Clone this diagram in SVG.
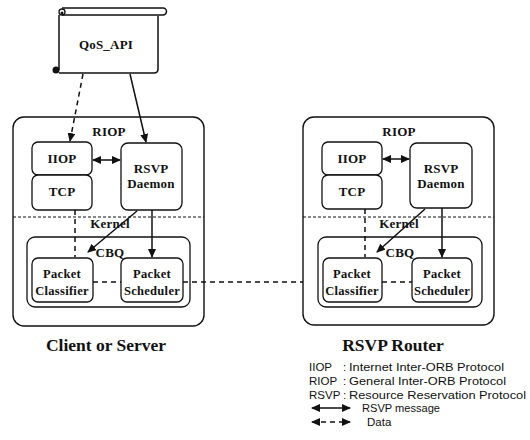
<svg xmlns="http://www.w3.org/2000/svg" width="530" height="440" viewBox="0 0 530 440">
<defs>
<marker id="ah" markerUnits="userSpaceOnUse" markerWidth="9" markerHeight="8" refX="8" refY="4" orient="auto-start-reverse">
<path d="M0,0 L9,4 L0,8 z" fill="#111"/>
</marker>
<style>
.box{fill:#fff;stroke:#111;stroke-width:1.3}
.sys{fill:#fff;stroke:#111;stroke-width:1.4}
.lbl{font-family:"Liberation Serif","Times New Roman",serif;font-weight:bold;font-size:13px;letter-spacing:0.2px;fill:#111;text-anchor:middle}
.pk{font-size:12.5px;letter-spacing:0.3px}
.big{font-family:"Liberation Serif","Times New Roman",serif;font-weight:bold;font-size:17.5px;fill:#111;text-anchor:middle}
.leg{font-family:"Liberation Sans",Arial,sans-serif;font-size:11.5px;fill:#111}
.sol{stroke:#111;stroke-width:1.5;fill:none}
.dash{stroke:#111;stroke-width:1.5;fill:none;stroke-dasharray:5,4}
.kern{stroke:#111;stroke-width:1;fill:none;stroke-dasharray:3,2}
</style>
</defs>
<rect width="530" height="440" fill="#fff"/>

<!-- QoS_API scroll -->
<g id="qos_api">
<path d="M59,15 V70 M59,73 H154 Q158,73 158,69 V16" class="sol" stroke-width="1.3"/>
<path d="M62,8 H163 a3.5,3.5 0 0 1 0,7 H62" class="sol" stroke-width="1.3"/>
<circle cx="62" cy="12" r="3" fill="#fff" stroke="#111" stroke-width="1.3"/>
<circle cx="62" cy="13" r="1.5" fill="#111"/>
<circle cx="56" cy="70" r="3.5" fill="#111"/>
<text class="lbl" x="106" y="49" font-size="14.5">QoS_API</text>
</g>

<!-- Left system -->
<g id="client_riop">
<rect class="sys" x="13" y="117" width="191" height="209" rx="11"/>
<text class="lbl" x="109" y="136" font-size="13.5">RIOP</text>
<line class="kern" x1="13" y1="217" x2="204" y2="217"/>
<text class="lbl" x="110" y="228" font-size="13.5">Kernel</text>
</g>
<g id="client_cbq">
<rect class="box" x="27" y="237" width="163" height="70" rx="8"/>
<text class="lbl" x="110" y="257">CBQ</text>
</g>
<g id="client_iiop">
<rect class="box" x="32" y="142" width="60" height="33" rx="6"/>
<text class="lbl" x="62" y="163">IIOP</text>
</g>
<g id="client_tcp">
<rect class="box" x="32" y="175" width="60" height="35" rx="6"/>
<text class="lbl" x="62" y="196">TCP</text>
</g>
<g id="client_rsvp">
<rect class="box" x="121" y="143" width="61" height="67" rx="7"/>
<text class="lbl" x="151" y="173">RSVP</text>
<text class="lbl" x="151" y="188">Daemon</text>
</g>
<g id="client_classifier">
<rect class="box" x="32" y="258" width="61" height="44" rx="6"/>
<text class="lbl pk" x="62" y="278">Packet</text>
<text class="lbl pk" x="62" y="295">Classifier</text>
</g>
<g id="client_scheduler">
<rect class="box" x="121" y="258" width="62" height="44" rx="6"/>
<text class="lbl pk" x="152" y="278">Packet</text>
<text class="lbl pk" x="152" y="295">Scheduler</text>
</g>

<!-- Right system -->
<g id="router_riop">
<rect class="sys" x="303" y="117" width="191" height="208" rx="11"/>
<text class="lbl" x="399" y="136" font-size="13.5">RIOP</text>
<line class="kern" x1="303" y1="217" x2="494" y2="217"/>
<text class="lbl" x="399" y="228" font-size="13.5">Kernel</text>
</g>
<g id="router_cbq">
<rect class="box" x="318" y="237" width="164" height="70" rx="8"/>
<text class="lbl" x="400" y="257">CBQ</text>
</g>
<g id="router_iiop">
<rect class="box" x="322" y="142" width="60" height="33" rx="6"/>
<text class="lbl" x="352" y="163">IIOP</text>
</g>
<g id="router_tcp">
<rect class="box" x="322" y="175" width="60" height="34" rx="6"/>
<text class="lbl" x="352" y="196">TCP</text>
</g>
<g id="router_rsvp">
<rect class="box" x="410" y="143" width="62" height="65" rx="7"/>
<text class="lbl" x="441" y="173">RSVP</text>
<text class="lbl" x="441" y="188">Daemon</text>
</g>
<g id="router_classifier">
<rect class="box" x="323" y="258" width="59" height="44" rx="6"/>
<text class="lbl pk" x="352" y="278">Packet</text>
<text class="lbl pk" x="352" y="295">Classifier</text>
</g>
<g id="router_scheduler">
<rect class="box" x="412" y="258" width="60" height="44" rx="6"/>
<text class="lbl pk" x="442" y="278">Packet</text>
<text class="lbl pk" x="442" y="295">Scheduler</text>
</g>

<!-- Connectors -->
<g id="connectors">
<line class="dash" x1="83" y1="74" x2="70" y2="141" marker-end="url(#ah)"/>
<line class="sol" x1="130" y1="74" x2="146" y2="142" marker-end="url(#ah)"/>
<line class="sol" x1="93" y1="160" x2="120" y2="160" marker-start="url(#ah)" marker-end="url(#ah)"/>
<line class="sol" x1="137" y1="211" x2="88" y2="252" marker-end="url(#ah)"/>
<line class="sol" x1="152" y1="210" x2="152" y2="257" marker-end="url(#ah)"/>
<line class="dash" x1="75" y1="210" x2="75" y2="257"/>
<line class="dash" x1="93" y1="282" x2="121" y2="282"/>
<line class="dash" x1="183" y1="282" x2="303" y2="282"/>

<line class="sol" x1="383" y1="159" x2="409" y2="159" marker-start="url(#ah)" marker-end="url(#ah)"/>
<line class="sol" x1="425" y1="209" x2="377" y2="252" marker-end="url(#ah)"/>
<line class="sol" x1="442" y1="208" x2="442" y2="257" marker-end="url(#ah)"/>
<line class="dash" x1="365" y1="209" x2="365" y2="257"/>
<line class="dash" x1="382" y1="282" x2="412" y2="282"/>
</g>

<!-- Titles -->
<text class="big" x="106" y="351">Client or Server</text>
<text class="big" x="393" y="351">RSVP Router</text>

<!-- Legend -->
<g id="legend">
<text class="leg" x="309" y="371">IIOP</text>
<text class="leg" x="343" y="371">:</text>
<text class="leg" x="349" y="371" textLength="155" lengthAdjust="spacingAndGlyphs">Internet Inter-ORB Protocol</text>
<text class="leg" x="309" y="385">RIOP</text>
<text class="leg" x="343" y="385">:</text>
<text class="leg" x="349" y="385" textLength="157" lengthAdjust="spacingAndGlyphs">General Inter-ORB Protocol</text>
<text class="leg" x="309" y="399">RSVP</text>
<text class="leg" x="343" y="399">:</text>
<text class="leg" x="349" y="399" textLength="177" lengthAdjust="spacingAndGlyphs">Resource Reservation Protocol</text>
<line class="sol" x1="312" y1="408" x2="350" y2="408" marker-start="url(#ah)" marker-end="url(#ah)"/>
<text class="leg" x="362" y="412" textLength="78" lengthAdjust="spacingAndGlyphs">RSVP message</text>
<line class="dash" x1="312" y1="422" x2="350" y2="422" stroke-dasharray="4,4" marker-start="url(#ah)" marker-end="url(#ah)"/>
<text class="leg" x="367" y="426">Data</text>
</g>
</svg>
